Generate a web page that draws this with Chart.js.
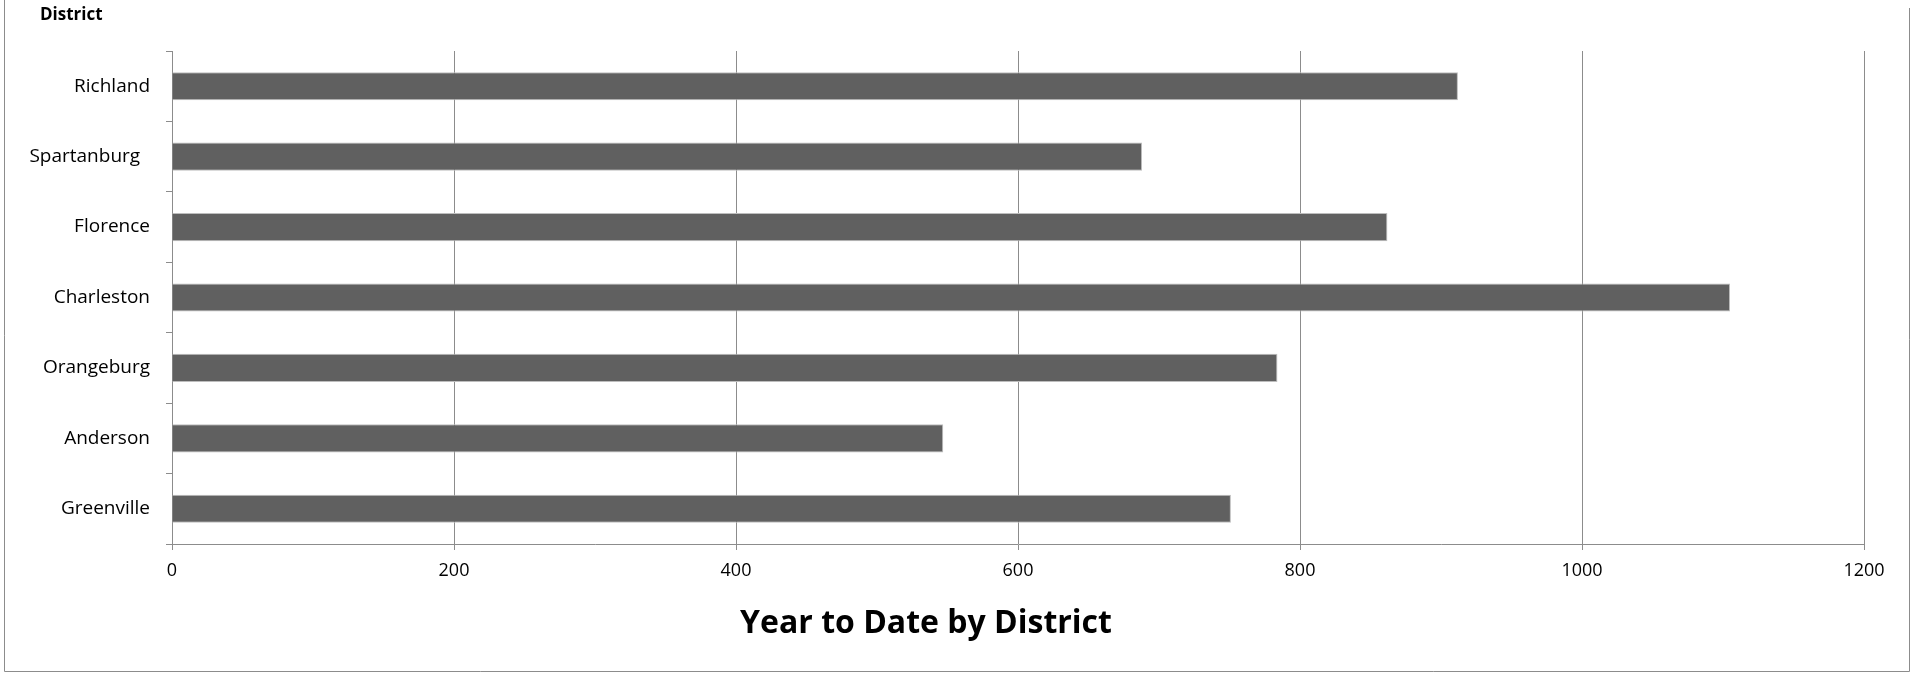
<!DOCTYPE html>
<html>
<head>
<meta charset="utf-8">
<script src="https://cdn.jsdelivr.net/npm/chart.js@4/dist/chart.umd.min.js"></script>
<style>
html,body{margin:0;padding:0;background:#fff;}
#wrap{position:relative;width:1917px;height:673px;}
</style>
</head>
<body>
<div id="wrap"><canvas id="c" width="1917" height="673"></canvas></div>
<script>
const districts = ["Richland", "Spartanburg\u00a0\u00a0", "Florence", "Charleston", "Orangeburg", "Anderson", "Greenville"];
const ytdValues = [912, 688, 862, 1105, 784, 547, 751];
const xTicks = [0, 200, 400, 600, 800, 1000, 1200];
const chartTitle = "Year to Date by District";
const axisCaption = "District";

const FONT = "'Open Sans', 'DejaVu Sans', sans-serif";

const decor = {
  id: 'decor',
  afterDraw(chart) {
    const ctx = chart.ctx;
    ctx.save();
    ctx.strokeStyle = '#8c8c8c';
    ctx.lineWidth = 1;
    ctx.beginPath();
    ctx.moveTo(4.5, 0); ctx.lineTo(4.5, 671.5);
    ctx.lineTo(1909.5, 671.5); ctx.lineTo(1909.5, 8);
    ctx.stroke();
    ctx.fillStyle = '#000';
    ctx.font = "bold 17px " + FONT;
    ctx.textBaseline = 'middle';
    ctx.textAlign = 'left';
    ctx.fillText(axisCaption, 40, 15);
    ctx.font = "bold 32px " + FONT;
    ctx.textAlign = 'center';
    ctx.fillText(chartTitle, 926, 624);
    ctx.restore();
  }
};

new Chart(document.getElementById('c'), {
  type: 'bar',
  data: {
    labels: districts,
    datasets: [{
      data: ytdValues,
      backgroundColor: '#606060',
      borderColor: '#bdbdbd',
      borderWidth: 1,
      borderSkipped: 'start',
      barPercentage: 0.4,
      categoryPercentage: 1.0
    }]
  },
  options: {
    indexAxis: 'y',
    responsive: false,
    animation: false,
    layout: { padding: { left: 0, right: 53, top: 51, bottom: 68 } },
    plugins: { legend: { display: false }, tooltip: { enabled: false }, title: { display: false } },
    scales: {
      x: {
        type: 'linear',
        min: xTicks[0], max: xTicks[xTicks.length - 1],
        ticks: {
          stepSize: xTicks[1] - xTicks[0], color: '#000', font: { family: FONT, size: 18 },
          padding: 10, maxRotation: 0, autoSkip: false,
          callback: (v) => String(v)
        },
        afterFit(scale) { scale.height = 61; },
        grid: { color: '#8c8c8c', lineWidth: 1, drawTicks: true, tickLength: 6, tickColor: '#8c8c8c' },
        border: { color: '#8c8c8c', width: 1 }
      },
      y: {
        afterFit(scale) { scale.width = 172; },
        grid: { offset: true, drawOnChartArea: false, drawTicks: true, tickLength: 6, tickColor: '#8c8c8c' },
        border: { color: '#8c8c8c', width: 1 },
        ticks: { color: '#000', font: { family: FONT, size: 19 }, padding: 16 }
      }
    }
  },
  plugins: [decor]
});
</script>
</body>
</html>
